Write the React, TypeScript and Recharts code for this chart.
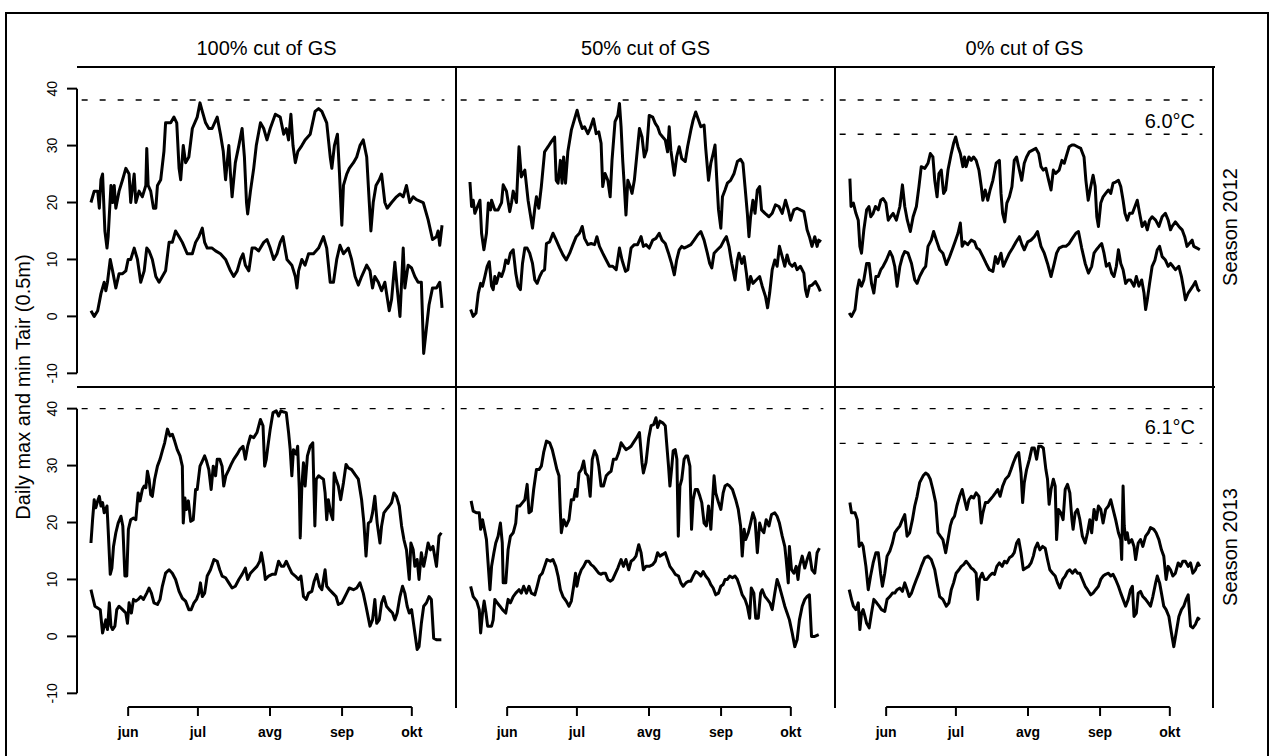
import React from "react";
import { LineChart, Line, XAxis, YAxis, ReferenceLine } from "recharts";

type Pt = [number, number];

// day index counts from 16 May (0) to 14 Oct (151)
const cutLabels = ["100% cut of GS", "50% cut of GS", "0% cut of GS"];
const seasonLabels = ["Season 2012", "Season 2013"];
const monthLabels = ["jun", "jul", "avg", "sep", "okt"];
const monthStarts = [16, 46, 77, 108, 138];
const yTicks = [-10, 0, 10, 20, 30, 40];
const peakLine = [38, 40];
const gapLine = [32, 33.9];
const gapLabel = ["6.0°C", "6.1°C"];

// ---- Season 2012 ----
const max12_100: Pt[] = [[0,20],[1.4,22],[2.9,22],[3.6,19],[4.3,24],[5,25],[6,15],[6.9,12],[7.4,14],[8.6,23],[9.3,20],[10,23],[10.7,19],[12.1,22],[13.6,24],[15,26],[16.4,25],[17.1,20],[18.6,25],[19.3,20],[20.7,22],[22.1,21],[23.6,23],[24,29.5],[24.6,23],[25.7,22],[26.9,19],[27.9,19],[28.6,23],[30,24],[31.4,29],[32.1,34],[34.3,34],[35.7,35],[36.9,34],[37.9,26],[38.6,24],[39.7,30],[40.7,27],[42.1,28],[43.6,33],[45.7,35],[46.9,37.5],[47.9,36],[49.3,34],[50.7,33],[52.1,33],[54.3,35],[55.7,32],[56.9,29],[57.9,24],[59.3,30],[60,25],[60.7,21],[62.1,27],[63.6,30],[65,33],[66,28],[66.9,20],[67.4,18],[68.6,22],[70,26],[71.1,30],[72.9,34],[74.3,33],[75.7,31],[77.1,33],[79.3,35.5],[81.4,35],[82.9,32],[84,33],[85,31],[86,35.5],[86.9,30],[87.9,27],[89,29],[90.7,30],[92.1,31],[94.3,32],[96.4,36],[97.9,36.5],[99.3,36],[101.4,34],[102.9,28],[103.6,26],[104.7,30],[106,32],[106.9,25],[107.9,16],[108.6,23],[110,25],[111.1,26],[112.9,27],[114.3,28],[115.7,30],[117.1,31],[118.6,28],[119.7,20],[120.4,15],[121.4,20],[122.6,23],[124,24],[125,25],[126.4,20],[127.4,19],[129.3,20],[131.4,21],[132.9,21.5],[134.3,21],[135.7,23],[137.1,20],[138.6,21],[140,20.5],[142.9,20],[145,17],[146.9,13.5],[148.6,14],[149.3,15],[150,12.5],[151,16]];
const min12_100: Pt[] = [[0,1],[1.4,0],[2.9,1],[4.3,4],[5.7,6],[6.4,4.5],[7.1,6],[8.3,10],[9.3,8],[10.7,5],[12.1,7.5],[13.6,7.5],[15,8],[16,10],[17.1,10],[18.6,12],[20,10],[21.4,6],[22.9,8],[24,12],[25,11.5],[26.4,10],[27.9,7],[29.3,6],[30.7,7],[32.1,8],[33.6,13],[35,13],[36.4,15],[37.9,14],[39.3,13],[41.4,11],[43.6,11],[45,13],[46.4,14],[47.9,15.5],[48.9,13],[50,12],[52.1,12],[53.6,11.5],[55.7,11],[57.9,10],[60,8],[61.4,7],[62.9,8],[64.3,10],[65.4,11],[66.4,9],[67.9,8],[69.3,12],[70.7,12],[72.1,11.5],[74.3,13],[75.7,13.5],[77.1,12],[78.6,10],[80,11],[81.4,13],[82.6,14],[84.3,10],[86.4,9],[87.9,7],[88.6,5],[89.3,8],[90.7,10],[92.1,9],[93.6,11],[95.7,11],[97.9,12],[100,14],[101.4,12],[102.9,6],[104.3,6],[105.7,10],[107.1,12.5],[108.6,11],[110.7,12],[112.1,10],[113.6,7],[115,5.5],[116.4,7],[118.6,9],[120,8],[121.1,5],[122.1,7],[123.6,6],[125,4.5],[126.4,6],[128.3,1],[129.3,3],[130.7,9.5],[131.7,5],[132.9,0],[134.3,12],[135,5],[136.4,9],[137.9,8.5],[139.3,7],[140.7,6],[142.1,6],[143.1,-6.5],[144.3,-2],[145.4,2],[146.9,5],[148.6,5],[150,6],[150.7,3],[151,1.5]];

const max12_50: Pt[] = [[0,23.6],[0.7,19.3],[1.4,20.4],[2.1,18.1],[4.3,20.4],[5,14.6],[6,11.7],[7.1,14.6],[7.9,19.9],[8.9,18.7],[9.3,20.4],[10.7,18.7],[12.1,18.7],[13.6,20],[14.3,23.1],[15.7,22],[17.1,18.4],[17.9,20],[18.6,22],[20,20],[21.1,29.8],[22.1,24.5],[23.6,25.7],[25,20.4],[26.9,15.5],[27.9,19],[28.6,21],[29.6,19],[30.7,22.8],[32.1,28.9],[33.6,29.8],[35,30.7],[36.4,31.5],[37.1,23.9],[37.9,23.4],[38.9,27.4],[39.6,23.4],[40.3,28],[41.1,23.4],[42.1,28.9],[43.6,32.7],[45,34.7],[46.1,36.2],[47.1,34.5],[48.3,33],[49.3,33.3],[50.7,32.1],[51.7,33],[53.1,34.7],[54.3,32.1],[55.4,32.4],[56.4,30.4],[57.1,22.8],[58.1,25.1],[59.3,23.9],[60.3,21],[61.1,27.4],[62.4,34.2],[63.6,35.3],[64.3,37.4],[65,33.3],[65.7,27.4],[66.4,22.8],[67.1,17.8],[67.9,23.9],[68.9,22.8],[69.7,21.6],[70.7,23.9],[71.7,28],[72.9,33],[74,31.5],[75,28],[76,29.2],[77.1,35.3],[78.6,35],[79.7,33.9],[80.7,33.3],[81.7,32.1],[82.9,31.5],[84,31],[85,28.9],[85.7,33.3],[86.4,29.2],[87.9,24.8],[88.9,28],[90,29.8],[91.1,27.7],[92.6,27.2],[93.6,29.8],[95,32.7],[96,34.5],[97.1,35.9],[98.3,34.5],[99.3,33.3],[100.7,33.6],[101.4,29.5],[102.6,23.9],[103.6,26.9],[104.6,28.6],[105.4,30.1],[106.1,24.5],[106.9,18.7],[107.9,15.5],[108.6,21],[109.7,22.2],[110.7,23.4],[112.1,23.9],[113.6,25.1],[115,27.2],[116.4,27.6],[117.4,26.9],[118.3,22.8],[119.3,18.1],[120,14],[120.7,17.5],[121.7,20.4],[122.6,18.1],[123.6,22.2],[124.6,22.8],[125.4,18.7],[126.9,18.1],[128.6,17.5],[130,18.1],[131.4,19.6],[132.9,19.3],[134.3,18.1],[135.7,20.4],[136.9,18.7],[137.9,16.9],[139.3,18.7],[140.7,19],[142.1,18.7],[143.6,18.4],[144.3,16.9],[145,15.2],[146,14],[147.1,12.3],[148.3,14],[149.3,12.3],[150,13.4],[151,13.1]];
const min12_50: Pt[] = [[0.3,1.2],[1.4,0],[2.6,0.6],[3.6,4.1],[4.6,5.8],[5.4,5.3],[6.4,7],[7.4,8.8],[8.3,9.6],[9.3,5.3],[10,4.7],[10.7,7],[11.4,5.8],[12.6,7.6],[13.6,7],[14.6,8.2],[15.4,9.9],[16.4,9.3],[17.4,11.1],[18.6,11.7],[19.7,7.6],[20.7,5.3],[21.7,4.7],[22.6,9.3],[23.6,12],[24.6,12],[25.7,11.1],[26.9,9.3],[27.9,6.4],[28.9,5.8],[30,7],[31.1,7.9],[32.1,8.2],[32.9,12.8],[34.3,13.1],[35.7,14.6],[37.1,13.4],[38.6,12],[40,10.8],[41.4,9.9],[42.9,11.1],[44.3,12.6],[45.7,14],[47.1,14.6],[48.3,15.8],[49.3,13.7],[50.7,12.6],[52.1,12.8],[53.6,12.6],[54.6,14],[55.7,12.3],[57.1,11.1],[58.6,9.9],[60,8.8],[61.4,8.8],[62.9,8.2],[64.3,12],[65.4,9.9],[66.9,7.9],[67.9,8.2],[69.3,12],[70.7,12.6],[72.1,12.6],[73.6,14],[74.6,12.3],[75.7,12.6],[77.1,12],[78.6,13.4],[80,13.7],[81.4,14.6],[82.6,13.4],[84,12.8],[85.4,11.1],[86.7,9.3],[87.9,7.3],[88.9,9.9],[90,11.7],[91.1,12.3],[92.1,12],[93.6,12.3],[95,12.6],[96.4,13.4],[97.9,14.3],[99.3,14.9],[100.7,13.4],[102.1,11.1],[103.1,9.3],[104,8.5],[105,11.1],[106.4,11.7],[107.9,12.3],[109.3,13.4],[110.3,14],[111.4,12.3],[112.6,9.3],[114,6.4],[115,9.9],[115.7,11.1],[116.9,9.3],[117.9,10.5],[118.9,7.6],[119.7,4.7],[120.7,7],[121.7,5.8],[123.1,6.4],[124.6,7],[125.7,5.3],[127.1,3.5],[128,1.5],[128.9,4.1],[130,8.2],[131.1,9.9],[132.1,8.8],[133.1,12.3],[134.3,10.5],[135.4,8.8],[136.4,10.8],[137.4,9.3],[138.6,8.8],[139.7,9.3],[140.7,8.2],[142.1,8.8],[143.6,7.6],[144.3,4.7],[145,3.5],[146,5.3],[147.1,5.5],[148.6,6.1],[149.7,5.3],[150.7,4.4]];

const max12_0: Pt[] = [[0.4,24.2],[0.9,19.3],[1.9,19.9],[3,18.1],[4,16.9],[4.7,12.3],[5.4,11.1],[6.4,15.2],[7.6,18.7],[8.6,19.3],[9.4,17.5],[10.4,18.1],[11.4,19.3],[12.6,18.7],[13.7,20.4],[14.7,20.7],[15.9,19.9],[16.9,16.9],[17.9,17.5],[19,18.1],[20.4,16.9],[21.9,19.3],[23,23.1],[24,19.3],[25.1,16.9],[26.4,14.9],[27.6,17.5],[29,19.3],[30.1,22.8],[31.1,26.3],[32.6,26],[34,26.9],[35,28.6],[36.1,28],[36.9,23.9],[37.9,21],[38.7,25.1],[39.7,25.7],[40.7,21.6],[41.6,22.2],[42.6,25.7],[44,28.6],[45,30.4],[45.9,31.5],[46.9,29.8],[47.9,28.6],[49,26.3],[49.7,28],[50.4,26.3],[51.6,28],[52.6,27.4],[53.6,28],[54.7,27.4],[55.9,25.7],[56.9,22.8],[57.6,20.4],[58.6,22.2],[59.7,20.4],[60.7,22.2],[61.9,23.9],[63.3,26.9],[64.7,27.4],[65.4,21.6],[66.1,18.1],[67,16.6],[67.9,19.9],[69,21],[70.1,22.8],[71.1,27.4],[72.1,28],[73.3,25.7],[74.3,23.9],[75.4,26.9],[76.4,28],[77.6,28.9],[79,29.2],[80.4,29.5],[81.6,28.6],[82.6,26.3],[83.6,25.7],[84.7,26],[85.9,23.9],[86.9,22.2],[87.9,25.7],[88.9,25.1],[90.4,25.7],[91.6,27.4],[92.6,26.9],[93.6,28.3],[94.7,29.8],[95.9,30.1],[96.9,30.1],[98.3,29.8],[99.7,29.5],[101.1,28],[101.9,23.9],[102.9,20.4],[104,22.8],[105,24.8],[105.9,22.8],[106.6,17.5],[107.3,15.8],[108.3,19.9],[109.3,21],[110.4,21.6],[111.6,22.2],[112.6,21.6],[113.6,23.4],[114.7,23.6],[115.9,23.9],[116.9,22.8],[117.9,20.4],[118.7,18.1],[119.7,16.9],[120.7,18.1],[121.9,18.1],[123,19.3],[124,20.4],[125,18.1],[126.1,15.8],[127.3,16.6],[128.3,15.2],[129.3,16.9],[130.4,17.5],[131.9,16.9],[133.3,15.8],[134.7,17.5],[136.1,18.1],[137.3,16.9],[138.3,15.2],[139,15.8],[140.4,16.6],[141.9,15.8],[143.3,15.2],[144.4,14],[145.4,12.3],[146.4,12.8],[147.6,13.4],[148.3,12.3],[149.7,12],[150.9,11.7]];
const min12_0: Pt[] = [[0.1,0.6],[1.1,0],[2.6,1.2],[3.6,4.7],[4.4,6.4],[5.4,5.3],[6.4,6.4],[7.6,9.3],[8.7,9.3],[9.7,5.8],[10.7,4.1],[11.6,7],[12.6,7],[13.7,8.2],[14.7,8.8],[16.1,9.9],[17.6,11.4],[18.7,10.5],[19.7,8.8],[20.7,5.3],[21.9,8.8],[23,10.5],[24,11.4],[25.4,11.1],[26.9,9.3],[28.3,6.4],[29.3,5.8],[30.4,7],[31.9,8.2],[33,8.8],[34,12.3],[35.4,13.4],[36.4,14.9],[37.6,13.4],[39,11.7],[40.4,11.1],[41.9,9.1],[43.3,10.5],[44.4,11.7],[45.9,13.4],[46.9,14.6],[47.9,16.4],[48.7,12.3],[49.7,13.1],[51.1,12.6],[52.6,13.4],[54,13.1],[55,12],[56.1,11.7],[57.6,10.5],[59,9.3],[60.4,8.2],[61.9,7.9],[63,10.5],[64,9.3],[65.4,11.1],[66.4,8.8],[67.6,9.9],[69,11.1],[70.4,12],[71.9,13.1],[73.3,14],[74.4,12.6],[75.4,11.7],[76.9,13.1],[78.3,13.4],[79.7,14],[81.1,14.9],[82.6,12.3],[84,11.1],[85.4,9.3],[86.9,7],[88.3,9.3],[89.3,11.1],[90.4,12],[91.9,12.3],[93.3,12.3],[94.7,12.8],[96.1,13.7],[97.6,14.6],[98.7,14.9],[100.1,12],[101.6,9.3],[103,7.6],[104.4,8.8],[105.4,11.1],[106.4,11.7],[107.6,12.3],[108.7,12.8],[109.7,11.1],[110.7,8.8],[111.9,9.3],[113,7.6],[114,7],[115,8.8],[115.9,11.7],[116.9,9.3],[117.9,8.2],[119,5.8],[120.1,6.4],[121.1,6.4],[122.6,5.3],[123.6,7],[124.7,5.3],[125.9,6.4],[126.9,4.1],[127.6,1.2],[128.3,2.9],[129.3,5.8],[130.4,8.8],[131.6,9.9],[132.6,11.7],[133.6,12.3],[134.7,10.5],[136.1,9.9],[137.3,8.8],[138.3,9.3],[139.3,8.8],[140.4,8.2],[141.9,8.8],[143,7],[144,4.7],[144.7,2.9],[145.9,4.1],[146.9,4.7],[147.9,5.3],[149,6.1],[150.1,4.7],[150.9,4.4]];

// ---- Season 2013 ----
const max13_100: Pt[] = [[0,16.4],[0.7,20.5],[1.4,24],[2.1,22.6],[2.9,23.8],[3.6,24.6],[4.3,22.9],[5,23.5],[5.7,21.7],[6.9,22.9],[7.4,18.8],[8.3,10.9],[9,12],[9.7,15.8],[10.7,18.2],[11.7,19.9],[12.9,21.1],[13.7,19.4],[14.6,10.6],[15.4,10.6],[16.1,18.8],[17.1,20.5],[18.3,20.8],[19.3,20.5],[20.3,25.2],[21.1,23.8],[22.1,25.8],[22.9,26.4],[23.6,26.1],[24.3,29],[25,27.6],[25.7,24.9],[26.4,24.6],[27.4,27.6],[28.6,29.9],[29.7,31.1],[30.7,32.6],[31.7,34],[32.9,36.4],[34,35.2],[35,35.5],[36,34.3],[37.1,32.8],[38.3,31.7],[39.3,29.9],[39.7,19.9],[40.4,24.3],[41.1,22.3],[41.9,23.8],[42.9,20.2],[44,20.5],[45,25.8],[45.7,25.8],[46.9,29.9],[47.9,30.8],[48.9,31.7],[49.7,30.8],[50.7,29.3],[51.7,25.8],[52.6,29.9],[53.6,28.2],[54.3,31.1],[55.4,31.1],[56.4,29.9],[57.1,26.4],[58,28.2],[59.3,29.3],[60.3,30.2],[61.4,31.1],[62.9,32],[64,32.8],[65.4,33.4],[66.4,31.1],[67.4,33.4],[68.6,35.2],[70,34.9],[71.4,35.8],[72.9,38.1],[74,37],[74.7,29.9],[75.4,31.1],[76.1,33.4],[77.1,36.4],[78.3,39.3],[79.7,39.6],[80.7,38.7],[81.7,39.6],[82.9,39.4],[84,39.3],[85,35.8],[85.7,32.8],[86.4,28.2],[87.1,32.8],[88.3,32],[88.9,33.4],[89.6,25.8],[90,17.3],[90.7,26.4],[91.4,30.5],[92.1,26.4],[93.1,31.7],[94.3,33.4],[95.4,34],[96.3,19.4],[96.9,27.6],[97.9,28.2],[98.9,27.9],[100,27.6],[100.7,25.2],[101.4,20.5],[102.1,24],[103.1,21.7],[104,20.5],[104.6,28.7],[105.4,27.6],[106.4,26.4],[107.4,24],[108.6,27],[109.7,30.2],[110.7,29.6],[112.1,29.3],[113.6,28.4],[115,27.6],[116.4,24],[117.4,19.9],[118.3,14.1],[119.3,19.9],[120.3,20.2],[121.1,21.7],[122.1,24.6],[123.1,19.9],[124.3,16.4],[125,19.4],[126,21.7],[127.1,22.3],[128.3,22.9],[129.3,23.5],[130.3,25.2],[131.4,24.6],[132.6,22.9],[133.6,19.4],[134.6,17],[135.7,15.2],[136.9,10],[137.6,16.4],[138.6,15.2],[139.3,12.3],[140.3,13.5],[141.1,10],[142.1,14.7],[143.1,12.3],[144,14.1],[145,16.4],[146,15.2],[147.1,15.8],[148.6,12.3],[149.7,17.6],[150.7,18.2]];
const min13_100: Pt[] = [[0,8.2],[0.7,7],[1.7,5.3],[2.9,5],[4,4.7],[5,0.6],[5.7,1.8],[6.4,2.9],[7.1,1.2],[7.9,5.9],[8.6,1.8],[9.3,1.2],[10.3,1.8],[11.1,4.7],[12.1,5.3],[13.6,4.7],[15,4.1],[15.7,2.3],[16.4,5.9],[17.4,4.1],[18.3,6.5],[19.3,6.2],[20.3,6.5],[21.4,7],[22.6,6.5],[24,7.6],[25,8.5],[26,7.6],[27.1,5.9],[28.6,5.6],[29.7,6.5],[30.7,8.8],[32.1,11.1],[33.6,11.7],[35,11.1],[36.4,10],[37.9,7.9],[39.3,6.7],[40.7,6.2],[42.1,4.7],[43.1,4.7],[44.3,5.9],[45.4,6.5],[46.4,7.6],[47.1,9.4],[47.9,7],[48.9,7.6],[50,10.6],[51.4,11.7],[52.9,13.5],[54.3,13.2],[55.4,11.7],[56.4,10.6],[57.9,10.3],[59.3,9.4],[60.7,8.5],[62.1,8.8],[63.6,10],[65,10.9],[66.4,12],[67.4,10],[68.6,11.1],[70,11.7],[71.4,12.3],[72.6,13.2],[73.3,14.7],[74.3,12.3],[75,10],[76.4,10.6],[77.9,10.9],[79.3,10.9],[80.7,13.2],[81.9,12.3],[82.9,12.3],[84,13.2],[85,12.3],[86.4,11.1],[87.9,10.6],[89.3,10],[90.3,10.6],[91.4,7],[92.6,6.5],[93.6,7.6],[95,7.9],[96,9.7],[97.1,10.9],[98.3,8.8],[99.3,8.2],[100.7,11.7],[101.4,8.8],[102.6,8.2],[104,7.6],[105.4,7],[106.4,5.6],[107.9,5.9],[108.9,6.7],[110,7.6],[111.1,8.5],[112.9,8.2],[114.3,8.5],[115.7,9.4],[117.1,7.6],[118.3,5.3],[120,1.8],[121.1,2.9],[122.1,6.5],[122.9,2.3],[124,2.9],[125,5.9],[126,7],[127.1,5.3],[128.3,4.7],[129.7,4.1],[130.7,2.9],[131.7,4.1],[132.9,7],[134,8.8],[135,7.6],[136,5.3],[136.9,4.1],[137.9,4.7],[139.3,0.6],[140.3,-2.3],[141.1,-1.8],[142.1,2.3],[143.1,5.3],[144.3,5.9],[145.4,7],[146.4,6.5],[147.4,-0.3],[148.6,-0.6],[150.7,-0.6]];

const max13_50: Pt[] = [[0.5,23.8],[1.4,22],[2.9,21.7],[4,21.7],[4.6,18.8],[5.4,20.5],[6.4,18.5],[7.1,17],[7.9,12.3],[8.6,8.2],[9.3,12.3],[10.3,14.7],[11.1,16.4],[12.1,17.6],[13.1,19.9],[13.9,16.4],[14.3,9.4],[15.4,9.4],[16.4,15.2],[17.4,17.6],[18.6,18.2],[19.7,19.9],[20.3,22.9],[21.4,22.9],[22.6,23.5],[23.6,24],[24.6,26.7],[25.4,21.7],[26.4,22],[27.4,25.8],[28.6,29.3],[29.7,29.3],[30.7,29.9],[31.7,32.3],[32.9,34.3],[34.3,34],[35.4,32.8],[36.4,31.1],[37.4,29.3],[38.3,28.2],[38.9,21.7],[39.3,18.2],[40.3,20.5],[41.4,19.4],[42.6,20.5],[43.6,24],[44.6,24],[45.4,25.8],[46,24.6],[46.9,28.7],[47.9,29.3],[48.9,30.8],[49.7,28.7],[50.7,28.2],[51.7,24.6],[52.6,31.1],[53.6,32.6],[54.6,31.7],[55.4,29.9],[56.4,26.4],[57.4,26.4],[58.6,28.2],[59.7,28.7],[60.7,29],[61.7,31.1],[62.9,31.1],[64,32.3],[65,34],[66,33.4],[67.1,32.8],[68.3,33.1],[69.3,33.4],[70.7,34.3],[71.7,34.9],[72.9,35.8],[74,30.5],[74.6,28.7],[75.7,30.5],[76.9,34.9],[77.9,37],[79,37.2],[80,38.4],[80.7,36.7],[81.7,37.8],[82.9,37.5],[84,37],[84.7,33.4],[85.4,29.9],[86,26.4],[86.7,29.3],[87.4,32.6],[88.3,32.8],[89,31.1],[89.6,17.6],[90.3,26.4],[91.1,27.6],[92.1,31.1],[92.9,31.7],[93.6,31.7],[94.6,29.9],[95.3,18.8],[96,24],[96.9,25.8],[97.9,25.8],[98.9,24.6],[99.7,23.5],[100.7,19.9],[101.7,19.4],[102.6,22.9],[103.6,18.8],[104.3,23.5],[105,28.2],[105.7,25.2],[106.9,23.5],[107.9,22.3],[108.9,25.2],[109.7,26.4],[110.7,26.7],[111.7,26.4],[112.9,25.8],[114.3,24],[115.4,22.3],[116.4,19.4],[117.1,14.1],[117.9,18.8],[118.6,17],[119.7,18.2],[120.7,19.9],[121.7,21.7],[122.6,20.5],[123.6,14.7],[124.6,19.9],[125.4,18.8],[126.4,18.2],[127.4,20.5],[128.6,19.4],[129.7,21.4],[131.1,21.7],[132.1,21.1],[133.1,19.9],[134.3,17.6],[135.4,15.8],[136,13.5],[136.9,9.4],[137.4,15.8],[138.3,11.7],[139.3,11.1],[140.3,12.3],[141.1,10],[141.7,12.3],[142.9,14.1],[144,12],[145,13.5],[146,14.7],[147.1,11.7],[148.3,11.1],[149.3,14.7],[150.3,15.5]];
const min13_50: Pt[] = [[0.3,8.8],[1.4,7],[2.9,6.2],[4,4.7],[4.6,0.6],[5.4,4.1],[6.1,6.2],[6.9,4.1],[7.6,1.8],[8.3,1.8],[9.3,1.8],[10,2.9],[10.7,6.5],[11.7,5.9],[12.9,5.3],[14,4.7],[15.4,4.1],[16.4,6.5],[17.4,5.9],[18.6,7],[19.7,7.6],[21.1,8.2],[22.1,7.6],[23.1,8.8],[24.3,7.6],[25.4,8.8],[26.4,7.6],[27.9,7.3],[28.9,8.8],[30,10.6],[31.1,11.1],[32.1,12.3],[33.1,13.5],[34.6,13.2],[35.7,13.5],[36.9,12.3],[37.9,10.6],[38.9,8.2],[40,7],[41.4,6.2],[42.6,5.3],[43.6,6.2],[44.6,8.8],[45.4,11.1],[46,8.8],[46.9,10.6],[47.9,11.7],[48.9,12.3],[50,13.2],[51.1,13.2],[52.1,12.6],[53.1,12.3],[54.3,11.7],[55.4,11.1],[56.4,10.9],[57.1,11.1],[58.3,11.1],[59.3,10],[60.3,9.7],[61.4,10],[62.6,11.1],[63.6,12],[65,13.5],[66,12.3],[67.1,13.5],[68.3,11.7],[69.3,13.2],[70.3,13.5],[71.4,14.1],[72.6,16.1],[73.6,14.7],[74.6,11.7],[75.7,12.3],[77.1,12.3],[78.6,12.6],[79.7,13.2],[80.7,14.7],[81.7,14.1],[82.9,14.4],[84,14.7],[85,13.5],[86,12.3],[87.1,11.7],[88.3,10.9],[89.7,10.6],[90.7,9.4],[91.7,8.8],[92.9,9.4],[94,9.7],[95,9.7],[96,10.6],[97.1,11.4],[98.3,11.1],[99.3,10.6],[100.3,11.4],[101.4,10.6],[102.6,10],[103.6,9.1],[104.6,8.5],[105.7,7.3],[106.9,7.6],[107.9,8.8],[108.9,9.1],[109.7,10],[110.7,10],[111.7,10.6],[112.9,10.3],[114,10.6],[115,10],[116,8.8],[117.1,7.3],[118.3,6.5],[119.3,5.3],[120.3,3.2],[121,8.5],[122.1,7.6],[122.9,3.2],[124,3.2],[125,7.6],[125.7,8.2],[126.9,7],[127.9,6.5],[129,5.9],[130,4.7],[131.1,7.6],[132.1,10],[133.1,8.8],[134.3,7],[135.4,5.3],[136.4,4.1],[137.4,2.9],[138.6,0.6],[139.7,-1.8],[140.7,-0.6],[141.7,2.9],[142.9,5.3],[144,6.5],[145,7],[146,7.3],[146.9,0],[148.3,0],[150,0.3]];

const max13_0: Pt[] = [[0.4,23.5],[1.1,21.7],[2.6,21.7],[3.6,20.5],[4.4,15.8],[5.4,16.4],[6.1,15.8],[7.3,12.3],[8.3,8.2],[9.3,10.6],[10.4,12.9],[11.6,14.7],[12.6,14.7],[13.6,11.1],[14.4,8.8],[15.4,11.1],[16.4,14.1],[17.6,15],[18.7,16.4],[19.7,18.2],[20.7,18.8],[21.9,19.4],[23,20.5],[24,21.4],[25,17.6],[26.1,18.2],[27.3,20.5],[28.3,22.9],[29.3,24.6],[30.4,27],[31.9,28.2],[33,28.7],[34,28.4],[35,27.6],[36.1,25.8],[37.3,23.5],[38.3,18.2],[39.3,17.6],[40.4,17],[41.6,14.7],[42.6,17],[43.6,19.4],[44.4,20.5],[45.4,21.1],[46.4,22.9],[47.6,24.6],[48.7,25.8],[49.7,24],[50.7,22.3],[51.6,24],[52.6,24.6],[53.6,24.3],[54.7,25.2],[55.9,24.6],[56.9,19.9],[57.6,21.7],[58.7,23.5],[59.7,23.5],[60.7,24],[61.9,24.6],[63,25.2],[64,25.8],[65,24.6],[66.1,26.4],[67.3,27.6],[68.7,28.2],[69.7,29.3],[70.7,30.5],[71.9,31.7],[73,32.3],[74,28.7],[74.7,23.5],[75.4,27],[76.4,29.3],[77.6,31.1],[78.7,33.1],[79.7,33.1],[80.7,31.1],[81.6,33.4],[82.6,33.4],[83.6,33.1],[84.7,29.3],[85.4,27.6],[86.1,23.2],[86.9,25.8],[87.9,27.6],[88.7,26.4],[89.3,17],[90.1,22.3],[91.1,21.7],[92.1,20.5],[93,25.8],[94,26.7],[95,25.2],[95.9,20.5],[96.4,18.8],[97.3,21.7],[98.3,22.3],[99.3,20.5],[100.4,17.6],[101.6,16.4],[102.6,18.2],[103.6,20.5],[104.4,18.2],[105.4,22.3],[106.4,20.5],[107.3,22.9],[108.3,22.3],[109.3,19.9],[110.4,22.3],[111.6,22.9],[112.6,24],[113.6,22.3],[114.7,20.5],[115.9,18.2],[116.9,17],[117.3,13.5],[117.9,26.4],[118.4,19.4],[119,17],[119.7,18.2],[120.4,16.4],[121.6,17],[122.6,15.8],[123.3,13.5],[124.4,16.4],[125.4,17],[126.4,15.8],[127.6,17.6],[128.7,18.2],[129.7,19.1],[131.1,18.8],[132.1,18.2],[133.3,17],[134.4,15.2],[135.4,14.1],[136.4,10],[137.3,12.3],[138.3,11.7],[139.3,10.6],[140.4,11.1],[141.6,12.9],[142.6,12.3],[143.6,13.2],[144.7,13.2],[145.9,12.3],[146.9,12.9],[147.9,11.1],[149,11.7],[150.1,12.9],[150.9,12.3]];
const min13_0: Pt[] = [[0.1,8.2],[1.1,6.5],[1.9,5.3],[3,4.7],[4,5.9],[4.7,1.2],[5.4,4.1],[6.1,4.7],[6.9,3.5],[7.6,2.3],[8.7,1.5],[9.7,4.1],[10.7,6.5],[11.9,5.9],[13,5.3],[14,4.7],[15.4,4.4],[16.4,6.5],[17.6,7],[18.7,7.6],[19.7,7.6],[20.7,8.2],[21.9,8.5],[23,7.9],[24,9.4],[25,8.2],[25.9,7],[26.9,7.6],[27.9,8.8],[29,10],[30.1,11.1],[31.1,12.3],[32.6,13.8],[34,14.1],[35.4,13.5],[36.9,11.7],[37.9,9.4],[39,7],[40.4,6.5],[41.9,5.3],[43,5.9],[44,8.2],[45,9.4],[46.1,11.1],[47.3,11.7],[48.3,12.3],[49.3,12.6],[50.4,13.2],[51.6,12.6],[52.6,12],[53.6,11.7],[54.7,11.1],[55.4,6.5],[56.1,10],[57.3,11.1],[58.3,10],[59.3,10],[60.4,10.6],[61.6,11.1],[62.6,10.9],[63.6,12.3],[64.7,12.9],[65.9,12.3],[66.9,13.2],[67.9,12.9],[69,13.8],[70.1,14.1],[71.1,14.7],[72.1,16.4],[73,17],[74,14.7],[75,11.7],[76.1,12],[77.3,12.3],[78.3,12.9],[79.3,14.1],[80.1,15.5],[81.1,16.4],[82.1,15.2],[83.3,15.8],[84.4,15.5],[85.4,13.5],[86.4,11.7],[87.6,11.1],[88.7,10.6],[89.7,9.4],[90.7,8.5],[91.9,10],[93,10.6],[94,11.4],[95,11.7],[96.1,11.1],[97.3,11.7],[98.3,11.1],[99.3,11.1],[100.4,10],[101.6,8.8],[102.6,8.2],[104,7.3],[105,7.6],[106.1,8.2],[107.3,8.8],[108.3,10],[109.3,10.6],[110.4,10.9],[111.6,11.1],[112.6,10.6],[113.6,10.9],[114.7,10],[115.9,8.8],[116.9,7.6],[117.9,6.5],[119,5.3],[120.1,6.5],[121.1,8.2],[121.9,8.8],[122.6,3.5],[123.6,4.1],[124.4,7.6],[125.4,7.9],[126.4,7],[127.6,6.5],[128.7,5.9],[129.7,5.3],[130.7,7],[131.9,9.4],[132.6,10.6],[133.6,9.4],[134.4,7.6],[135.4,5.3],[136.4,4.7],[137.6,3.5],[138.7,0.6],[139.7,-1.8],[140.7,0.6],[141.9,3.5],[143,4.7],[144,5.3],[145,6.5],[145.9,7.3],[146.9,1.8],[147.9,1.5],[149,2.1],[150.1,3.2],[150.9,2.9]];

const panels = [
  [
    { max: max12_100, min: min12_100 },
    { max: max12_50, min: min12_50 },
    { max: max12_0, min: min12_0 },
  ],
  [
    { max: max13_100, min: min13_100 },
    { max: max13_50, min: min13_50 },
    { max: max13_0, min: min13_0 },
  ],
];

const FONT = '"Liberation Sans", Arial, Helvetica, sans-serif';
const COL_X = [77, 456, 835];
const COL_W = 379;
const ROW_Y = [67, 387];
const PLOT_H = 320;
const Y_AXIS_W = 77;
const X_AXIS_H = 48;
const X_DOMAIN: [number, number] = [-6, 157];
const Y_DOMAIN: [number, number] = [-12.4, 43.8];

const toRows = (pts: Pt[]) => pts.map(([d, v]) => ({ d, v }));

function TempTick(props: any) {
  const { x, y, payload } = props;
  return (
    <text x={x} y={y} transform={`rotate(-90 ${x} ${y})`} textAnchor="middle" fontSize={14} fontFamily={FONT} fill="#000">
      {payload.value}
    </text>
  );
}

function MonthTick(props: any) {
  const { x, y, payload } = props;
  const i = monthStarts.indexOf(payload.value);
  return (
    <text x={x} y={y + 19} textAnchor="middle" fontSize={14} fontWeight="bold" fontFamily={FONT} fill="#000">
      {monthLabels[i]}
    </text>
  );
}

function Panel({ row, col }: { row: number; col: number }) {
  const p = panels[row][col];
  const left = col === 0;
  const bottom = row === 1;
  const w = COL_W + (left ? Y_AXIS_W : 0);
  const h = PLOT_H + (bottom ? X_AXIS_H : 0);
  return (
    <div style={{ position: "absolute", left: COL_X[col] - (left ? Y_AXIS_W : 0), top: ROW_Y[row] }}>
      <LineChart width={w} height={h} margin={{ top: 0, right: 0, bottom: 0, left: 0 }}>
        <XAxis
          type="number"
          dataKey="d"
          domain={X_DOMAIN}
          allowDataOverflow
          hide={!bottom}
          height={X_AXIS_H}
          ticks={monthStarts}
          interval={0}
          tickSize={9}
          tickLine={{ stroke: "#000", strokeWidth: 2 }}
          axisLine={false}
          tick={(t: any) => <MonthTick {...t} />}
        />
        <YAxis
          type="number"
          domain={Y_DOMAIN}
          allowDataOverflow
          hide={!left}
          width={Y_AXIS_W}
          ticks={yTicks}
          interval={0}
          tickSize={10}
          tickMargin={10}
          tickLine={{ stroke: "#000", strokeWidth: 2 }}
          axisLine={false}
          tick={(t: any) => <TempTick {...t} />}
        />
        {left && (
          <ReferenceLine
            segment={[{ x: X_DOMAIN[0], y: -10 }, { x: X_DOMAIN[0], y: 40 }]}
            stroke="#000"
            strokeWidth={2}
            ifOverflow="visible"
          />
        )}
        {bottom && (
          <ReferenceLine
            segment={[{ x: monthStarts[0], y: Y_DOMAIN[0] }, { x: monthStarts[4], y: Y_DOMAIN[0] }]}
            stroke="#000"
            strokeWidth={2}
            ifOverflow="visible"
          />
        )}
        <ReferenceLine
          segment={[{ x: -4, y: peakLine[row] }, { x: 152, y: peakLine[row] }]}
          stroke="#000"
          strokeWidth={1.4}
          strokeDasharray="6 12"
        />
        {col === 2 && (
          <ReferenceLine
            segment={[{ x: -4, y: gapLine[row] }, { x: 152, y: gapLine[row] }]}
            stroke="#000"
            strokeWidth={1.4}
            strokeDasharray="6 12"
          />
        )}
        <Line data={toRows(p.max)} dataKey="v" type="linear" dot={false} stroke="#000" strokeWidth={3} strokeLinejoin="round" isAnimationActive={false} />
        <Line data={toRows(p.min)} dataKey="v" type="linear" dot={false} stroke="#000" strokeWidth={3} strokeLinejoin="round" isAnimationActive={false} />
      </LineChart>
    </div>
  );
}

const textBase: React.CSSProperties = {
  position: "absolute",
  fontFamily: FONT,
  fontSize: 20,
  lineHeight: "20px",
  color: "#000",
  whiteSpace: "nowrap",
};

export default function App() {
  return (
    <div style={{ position: "absolute", left: 0, top: 0, width: 1271, height: 756, background: "#fff", overflow: "hidden" }}>
      {/* outer frame */}
      <div style={{ position: "absolute", left: 5, top: 12, width: 1264, height: 770, border: "2px solid #000", boxSizing: "border-box" }} />

      {[0, 1].map((r) => [0, 1, 2].map((c) => <Panel key={`${r}-${c}`} row={r} col={c} />))}

      {/* panel frames */}
      <div style={{ position: "absolute", left: 77, top: 66, width: 1138, height: 2, background: "#000" }} />
      <div style={{ position: "absolute", left: 77, top: 386, width: 1138, height: 2, background: "#000" }} />
      {[456, 835, 1213].map((x) => (
        <div key={x} style={{ position: "absolute", left: x - 1, top: 66, width: 2, height: 642, background: "#000" }} />
      ))}

      {cutLabels.map((t, c) => (
        <div key={t} style={{ ...textBase, left: COL_X[c] + COL_W / 2, top: 38, transform: "translateX(-50%)" }}>
          {t}
        </div>
      ))}

      {seasonLabels.map((t, r) => (
        <div key={t} style={{ ...textBase, left: 1230, top: ROW_Y[r] + PLOT_H / 2, transform: "translate(-50%, -50%) rotate(-90deg)" }}>
          {t}
        </div>
      ))}

      <div style={{ ...textBase, left: 23, top: 387, transform: "translate(-50%, -50%) rotate(-90deg)" }}>
        Daily max and min Tair (0.5m)
      </div>

      {gapLabel.map((t, r) => (
        <div key={t} style={{ ...textBase, right: 1271 - 1195, top: r === 0 ? 111 : 417 }}>
          {t}
        </div>
      ))}
    </div>
  );
}
